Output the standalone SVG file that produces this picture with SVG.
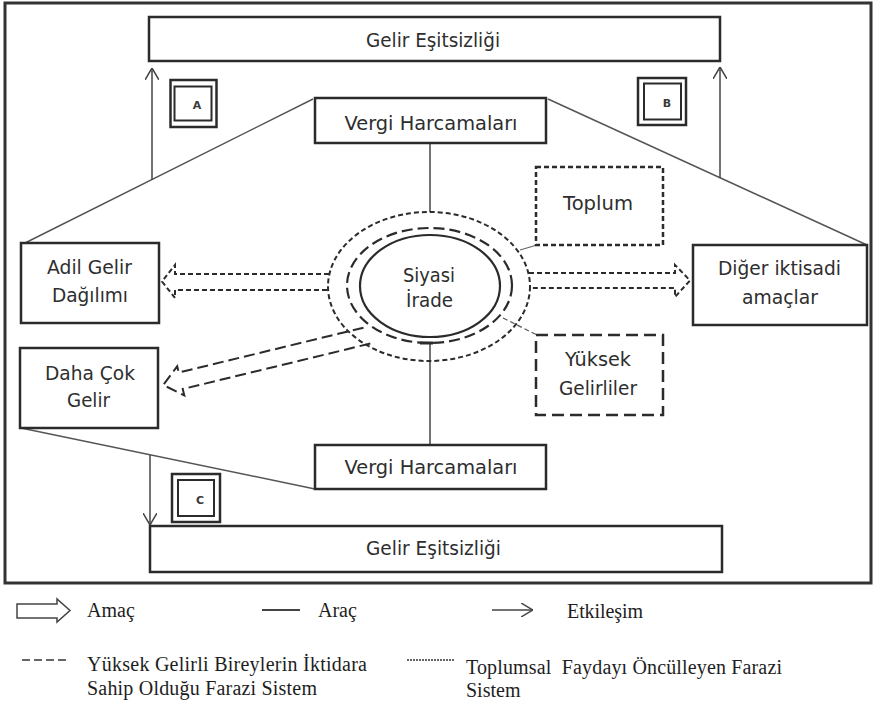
<svg xmlns="http://www.w3.org/2000/svg" width="873" height="705" viewBox="0 0 873 705">
<defs>
<style>
.box{fill:#fff;stroke:#2b2b2b;stroke-width:2.5}
.lbl{font-family:"DejaVu Sans","Liberation Sans",sans-serif;font-size:19px;fill:#2e2e2e;text-anchor:middle}
.let{font-family:"DejaVu Sans","Liberation Sans",sans-serif;font-size:11px;font-weight:bold;fill:#3a3a3a;text-anchor:middle}
.leg{font-family:"Liberation Serif","Times New Roman",serif;font-size:20px;fill:#1e1e1e}
.thin{fill:none;stroke:#555;stroke-width:1.5}
.tool{fill:none;stroke:#444;stroke-width:1.5}
.dot{fill:none;stroke:#2b2b2b;stroke-width:2;stroke-dasharray:5 3}
.dash{fill:none;stroke:#2b2b2b;stroke-width:2;stroke-dasharray:11 5}
</style>
<marker id="ah" viewBox="0 0 12 14" refX="12" refY="7" markerWidth="12" markerHeight="14" markerUnits="userSpaceOnUse" orient="auto">
<path d="M0,0 L12,7 L0,14" fill="none" stroke="#444" stroke-width="1.5"/>
</marker>
</defs>
<rect width="873" height="705" fill="#fff"/>
<rect id="frame" x="5" y="3" width="866" height="580" fill="none" stroke="#333" stroke-width="3"/>

<g id="connectors">
<line class="thin" x1="313" y1="99" x2="25" y2="243"/>
<line class="thin" x1="548" y1="99" x2="867" y2="245"/>
<line class="thin" x1="21" y1="428" x2="315" y2="489"/>
<line class="tool" x1="152" y1="180" x2="152" y2="68" marker-end="url(#ah)"/>
<line class="tool" x1="720" y1="178" x2="720" y2="67" marker-end="url(#ah)"/>
<line class="tool" x1="150" y1="455" x2="150" y2="525" marker-end="url(#ah)"/>
<line class="tool" x1="430" y1="143" x2="430" y2="212"/>
<line class="tool" x1="430" y1="343" x2="430" y2="445"/>
<line x1="420" y1="343" x2="433" y2="343" stroke="#2b2b2b" stroke-width="3"/>
<line x1="520" y1="250" x2="537" y2="245" stroke="#666" stroke-width="1.2"/>
<line x1="503" y1="318" x2="537" y2="335" stroke="#555" stroke-width="1.2" stroke-dasharray="5 3"/>
<path class="dot" d="M329,274 H175 V265 L162,281.5 L175,298 V290 H329"/>
<path class="dot" d="M529,273 H675 V265 L690,280.5 L675,297 V288 H529"/>
<path class="dash" transform="translate(368.3,335.3) rotate(166.37)" d="M0,-8.5 H193 V-15 L211,0 L193,15 V8.5 H0"/>
</g>

<g id="gelir-top">
<rect class="box" x="149" y="17" width="571" height="44"/>
<text class="lbl" x="433" y="47" textLength="134" lengthAdjust="spacingAndGlyphs">Gelir Eşitsizliği</text>
</g>
<g id="box-a">
<rect x="170.5" y="80" width="46" height="47" fill="#fff" stroke="#2b2b2b" stroke-width="2.5"/>
<rect x="174.5" y="86.5" width="37" height="34" fill="none" stroke="#2b2b2b" stroke-width="2"/>
<text class="let" x="197" y="109">A</text>
</g>
<g id="box-b">
<rect x="638" y="78" width="48" height="47" fill="#fff" stroke="#2b2b2b" stroke-width="2.5"/>
<rect x="644" y="83.5" width="37" height="36" fill="none" stroke="#2b2b2b" stroke-width="2"/>
<text class="let" x="667" y="107">B</text>
</g>
<g id="vergi-top">
<rect class="box" x="315" y="98" width="231" height="45"/>
<text class="lbl" x="431" y="130" textLength="173" lengthAdjust="spacingAndGlyphs">Vergi Harcamaları</text>
</g>
<g id="toplum">
<rect x="536" y="167" width="127" height="78" fill="#fff" stroke="#2b2b2b" stroke-width="2.5" stroke-dasharray="5 3"/>
<text class="lbl" x="598" y="210" textLength="70" lengthAdjust="spacingAndGlyphs">Toplum</text>
</g>
<g id="siyasi-irade">
<ellipse cx="429" cy="286.5" rx="101" ry="74.5" fill="none" stroke="#2b2b2b" stroke-width="2" stroke-dasharray="5 3"/>
<ellipse cx="429.5" cy="285.5" rx="82.5" ry="57.5" fill="none" stroke="#2b2b2b" stroke-width="2.2" stroke-dasharray="11 5"/>
<ellipse cx="430" cy="286" rx="70" ry="51" fill="#fff" stroke="#2b2b2b" stroke-width="2.2"/>
<text class="lbl" x="429" y="282" textLength="52" lengthAdjust="spacingAndGlyphs" fill="#3a4452">Siyasi</text>
<text class="lbl" x="429.5" y="307" textLength="47" lengthAdjust="spacingAndGlyphs" fill="#3a4452">İrade</text>
</g>
<g id="adil-gelir">
<rect class="box" x="21" y="243" width="138" height="80"/>
<text class="lbl" x="89.5" y="274" textLength="85" lengthAdjust="spacingAndGlyphs">Adil Gelir</text>
<text class="lbl" x="90" y="302" textLength="76" lengthAdjust="spacingAndGlyphs">Dağılımı</text>
</g>
<g id="diger">
<rect class="box" x="693" y="245" width="174" height="80"/>
<text class="lbl" x="779.5" y="275" textLength="123" lengthAdjust="spacingAndGlyphs">Diğer iktisadi</text>
<text class="lbl" x="780" y="304" textLength="76" lengthAdjust="spacingAndGlyphs">amaçlar</text>
</g>
<g id="yuksek">
<rect x="536" y="335" width="127" height="80" fill="#fff" stroke="#2b2b2b" stroke-width="2.5" stroke-dasharray="12 6"/>
<text class="lbl" x="598" y="366" textLength="66" lengthAdjust="spacingAndGlyphs">Yüksek</text>
<text class="lbl" x="598" y="395" textLength="78" lengthAdjust="spacingAndGlyphs">Gelirliler</text>
</g>
<g id="daha-cok">
<rect class="box" x="20" y="348" width="138" height="80"/>
<text class="lbl" x="90" y="380" textLength="90" lengthAdjust="spacingAndGlyphs">Daha Çok</text>
<text class="lbl" x="88.5" y="407" textLength="43" lengthAdjust="spacingAndGlyphs">Gelir</text>
</g>
<g id="vergi-bottom">
<rect class="box" x="315" y="445" width="231" height="44"/>
<text class="lbl" x="431" y="474" textLength="173" lengthAdjust="spacingAndGlyphs">Vergi Harcamaları</text>
</g>
<g id="box-c">
<rect x="172" y="474" width="48" height="48" fill="#fff" stroke="#2b2b2b" stroke-width="2.5"/>
<rect x="178" y="480" width="36" height="36" fill="none" stroke="#2b2b2b" stroke-width="2"/>
<text class="let" x="200" y="504">C</text>
</g>
<g id="gelir-bottom">
<rect class="box" x="150" y="526" width="572" height="46"/>
<text class="lbl" x="433.5" y="555" textLength="135" lengthAdjust="spacingAndGlyphs">Gelir Eşitsizliği</text>
</g>

<g id="legend">
<path d="M17,604 H57 V599 L70,610.5 L57,622 V618 H17 Z" fill="#fff" stroke="#444" stroke-width="1.5"/>
<text class="leg" x="87" y="617">Amaç</text>
<line x1="262" y1="610" x2="300" y2="610" stroke="#444" stroke-width="2"/>
<text class="leg" x="318" y="617">Araç</text>
<line x1="492" y1="610" x2="533" y2="610" stroke="#444" stroke-width="1.5" marker-end="url(#ah)"/>
<text class="leg" x="567" y="618" textLength="76">Etkileşim</text>
<line x1="22" y1="660" x2="68" y2="660" stroke="#333" stroke-width="1.5" stroke-dasharray="8 4"/>
<text class="leg" x="87" y="671" textLength="280">Yüksek Gelirli Bireylerin İktidara</text>
<text class="leg" x="87" y="695" textLength="230">Sahip Olduğu Farazi Sistem</text>
<line x1="407" y1="660" x2="455" y2="660" stroke="#333" stroke-width="1.4" stroke-dasharray="2 1"/>
<text class="leg" x="466" y="674" textLength="316" xml:space="preserve">Toplumsal  Faydayı Öncülleyen Farazi</text>
<text class="leg" x="466" y="697">Sistem</text>
</g>
</svg>
